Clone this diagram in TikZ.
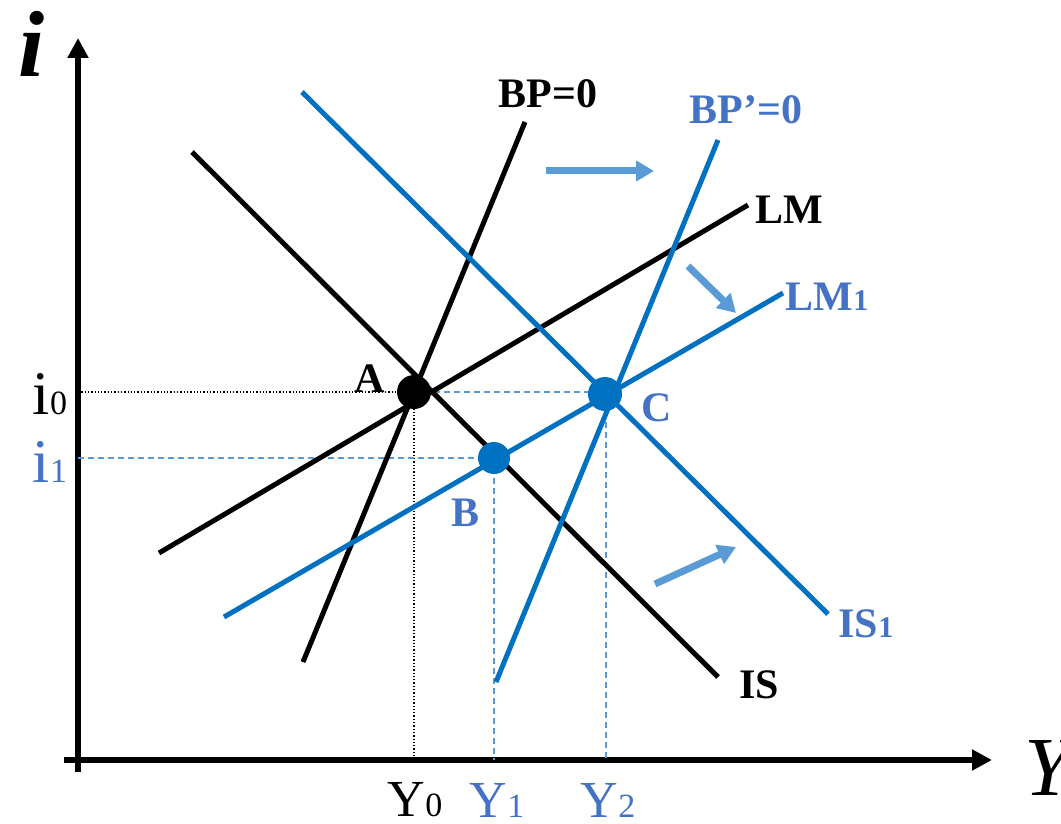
\documentclass[tikz,border=0pt]{standalone}
\usepackage{fontspec}
\setmainfont{Liberation Serif}
\usetikzlibrary{arrows.meta}
\definecolor{lineblue}{HTML}{0070C0}
\definecolor{textblue}{HTML}{4472C4}
\definecolor{shiftblue}{HTML}{5B9BD5}
\tikzset{
	axis/.style={line width=6pt,-{Triangle[length=20pt,width=20pt]}},
	oldcurve/.style={line width=5pt,black},
	newcurve/.style={line width=5pt,lineblue},
	shiftarrow/.style={line width=7pt,shiftblue,-{Triangle[length=18pt,width=20pt]}},
	guideold/.style={line width=1.3pt,black,dotted},
	guidenew/.style={line width=1.3pt,shiftblue,dash pattern=on 6pt off 4pt},
	eqpoint/.style={circle,inner sep=0pt,minimum size=34pt},
	curvename/.style={font=\fontsize{42}{48}\selectfont\bfseries},
	levelname/.style={font=\fontsize{52}{60}\selectfont}
}
\newcommand{\sm}[1]{{\fontsize{34}{40}\selectfont #1}}
\newcommand{\smb}[1]{{\fontsize{30}{36}\selectfont #1}}
\begin{document}
\begin{tikzpicture}[x=1pt,y=-1pt]
	\useasboundingbox (0,0) rectangle (1061,824);
	
	\coordinate (origin) at (78,760);
	\coordinate (ytop) at (78,38);
	\coordinate (ybot) at (78,772);
	\coordinate (xleft) at (64,760);
	\coordinate (xright) at (992,760);
	\draw[axis] (ybot) -- (ytop);
	\draw[axis] (xleft) -- (xright);
	
	\coordinate (is-a) at (192,152);
	\coordinate (is-b) at (718,677);
	\coordinate (lm-a) at (159,553);
	\coordinate (lm-b) at (748,205);
	\coordinate (bp-a) at (303,662);
	\coordinate (bp-b) at (525,122);
	\coordinate (isone-a) at (302,92);
	\coordinate (isone-b) at (828,614);
	\coordinate (lmone-a) at (224,617);
	\coordinate (lmone-b) at (783,293);
	\coordinate (bpone-a) at (496,682);
	\coordinate (bpone-b) at (718,140);
	
	\coordinate (i0-axis) at (78,392);
	\coordinate (i1-axis) at (78,458);
	\coordinate (y0-axis) at (414,760);
	\coordinate (y1-axis) at (494,760);
	\coordinate (y2-axis) at (606,760);
	
	\draw[guideold] (i0-axis) -- (414,392);
	\draw[guideold] (414,392) -- (y0-axis);
	\draw[guidenew] (414,392) -- (606,392);
	\draw[guidenew] (i1-axis) -- (494,458);
	\draw[guidenew] (494,458) -- (y1-axis);
	\draw[guidenew] (606,392) -- (y2-axis);
	
	\draw[oldcurve] (is-a) -- (is-b);
	\draw[oldcurve] (lm-a) -- (lm-b);
	\draw[oldcurve] (bp-a) -- (bp-b);
	\draw[newcurve] (isone-a) -- (isone-b);
	\draw[newcurve] (lmone-a) -- (lmone-b);
	\draw[newcurve] (bpone-a) -- (bpone-b);
	
	\node[eqpoint,fill=black] (A) at (414,392) {};
	\node[eqpoint,fill=lineblue,minimum size=32pt] (B) at (494,458) {};
	\node[eqpoint,fill=lineblue] (C) at (605,394) {};
	
	\coordinate (bpshift-a) at (546,171);
	\coordinate (bpshift-b) at (654,171);
	\coordinate (lmshift-a) at (688,266);
	\coordinate (lmshift-b) at (736,313);
	\coordinate (isshift-a) at (655,584);
	\coordinate (isshift-b) at (736,547);
	\draw[shiftarrow] (bpshift-a) -- (bpshift-b);
	\draw[shiftarrow] (lmshift-a) -- (lmshift-b);
	\draw[shiftarrow] (isshift-a) -- (isshift-b);
	
	\node[font=\fontsize{94}{106}\selectfont\bfseries\itshape] (ilabel) at (32,44) {i};
	\node[font=\fontsize{84}{96}\selectfont\itshape] (Ylabel) at (1048,768) {Y};
	
	\node[curvename] (Alabel) at (370,379) {A};
	\node[curvename,textblue] (Blabel) at (466,513) {B};
	\node[curvename,textblue] (Clabel) at (657,408) {C};
	\node[curvename] (bplabel) at (548,94) {BP=0};
	\node[curvename,textblue] (bponelabel) at (746,110) {BP’=0};
	\node[curvename] (lmlabel) at (789,210) {LM};
	\node[curvename,textblue] (lmonelabel) at (827,297) {LM\smb{1}};
	\node[curvename,textblue] (isonelabel) at (866,624) {IS\smb{1}};
	\node[curvename] (islabel) at (759,685) {IS};
	
	\node[levelname,font=\fontsize{62}{70}\selectfont] (i0label) at (50,394) {i\sm{0}};
	\node[levelname,font=\fontsize{62}{70}\selectfont,textblue] (i1label) at (50,462) {i\sm{1}};
	\node[levelname] (y0label) at (415,800) {Y\sm{0}};
	\node[levelname,textblue] (y1label) at (497,800) {Y\sm{1}};
	\node[levelname,textblue] (y2label) at (608,800) {Y\sm{2}};
\end{tikzpicture}
\end{document}
